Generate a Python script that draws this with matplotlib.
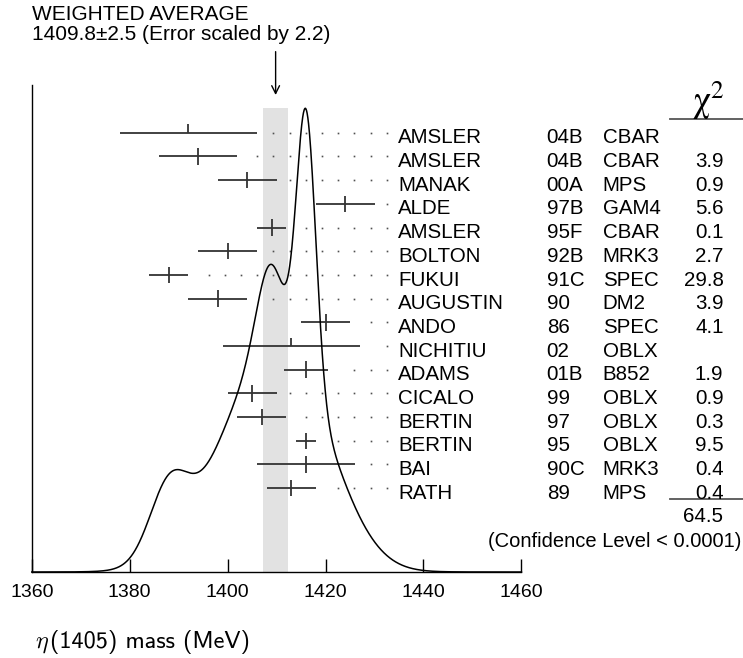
import numpy as np
import matplotlib
matplotlib.use("Agg")
import matplotlib.pyplot as plt
import matplotlib.transforms as mtransforms

# ---------------- data ----------------
authors = ["AMSLER", "AMSLER", "MANAK", "ALDE", "AMSLER", "BOLTON", "FUKUI", "AUGUSTIN",
           "ANDO", "NICHITIU", "ADAMS", "CICALO", "BERTIN", "BERTIN", "BAI", "RATH"]
years = ["04B", "04B", "00A", "97B", "95F", "92B", "91C", "90",
         "86", "02", "01B", "99", "97", "95", "90C", "89"]
experiments = ["CBAR", "CBAR", "MPS", "GAM4", "CBAR", "MRK3", "SPEC", "DM2",
               "SPEC", "OBLX", "B852", "OBLX", "OBLX", "OBLX", "MRK3", "MPS"]
values = [1392, 1394, 1404, 1424, 1409, 1400, 1388, 1398,
          1420, 1413, 1416, 1405, 1407, 1416, 1416, 1413]
errors = [14, 8, 6, 6, 3, 6, 4, 6,
          5, 14, 4.5, 5, 5, 2, 10, 5]
used = [False, True, True, True, True, True, True, True,
        True, False, True, True, True, True, True, True]
chi2 = ["", "3.9", "0.9", "5.6", "0.1", "2.7", "29.8", "3.9",
        "4.1", "", "1.9", "0.9", "0.3", "9.5", "0.4", "0.4"]
chi2_total = "64.5"
avg_value = 1409.8
avg_error = 2.5
scale_factor = 2.2
xticks = [1360, 1380, 1400, 1420, 1440, 1460]

# ---------------- figure ----------------
W, H = 743, 658
fig = plt.figure(figsize=(W / 100, H / 100), dpi=100)
FONT = "Liberation Sans"
plt.rcParams["font.family"] = [FONT, "DejaVu Sans"]
FS = 14.8

def fx(px):
    return px / W

def fy(py):
    return (H - py) / H

ax = fig.add_axes([fx(31.8), fy(572), fx(521.4) - fx(31.8), fy(85) - fy(572)])
n = len(values)
row_y = np.arange(n, 0, -1, dtype=float)  # top row at n
ax.set_xlim(1360, 1460)
ax.set_ylim(-2.536, 18.013)

for s in ["top", "right"]:
    ax.spines[s].set_visible(False)
for s in ["left", "bottom"]:
    ax.spines[s].set_linewidth(1.0)
    ax.spines[s].set_color("black")
ax.set_yticks([])
ax.set_xticks(xticks)
ax.set_xticklabels([str(t) for t in xticks], fontsize=14, family=FONT)
ax.tick_params(axis="x", direction="in", length=9.5, width=1.0, pad=8.5, colors="black")

# weighted average band
band_top = 17.05
ax.fill_between([avg_value - avg_error, avg_value + avg_error], -2.536, band_top,
                color="#e2e2e2", lw=0, zorder=1)

# ideogram curve
xs = np.linspace(1360, 1460, 2000)
ys = np.zeros_like(xs)
for v, e, u in zip(values, errors, used):
    if u:
        ys += (1.0 / e) * np.exp(-0.5 * ((xs - v) / e) ** 2) / (e * np.sqrt(2 * np.pi))
ys = ys / ys.max() * (17.03 + 2.536) - 2.536
ax.plot(xs, ys, color="black", lw=1.1, zorder=4, clip_on=False)

# error bars
bar_col = "#333333"
for y, v, e, u in zip(row_y, values, errors, used):
    ax.hlines(y, v - e, v + e, color=bar_col, lw=1.3, zorder=3)
    if u:
        ax.vlines(v, y - 0.35, y + 0.35, color=bar_col, lw=1.3, zorder=3)
    else:
        ax.vlines(v, y, y + 0.35, color=bar_col, lw=1.3, zorder=3)

# dotted leaders on a fixed grid
grid0, gstep = 1409.33, 3.309
grid = grid0 + gstep * np.arange(-15, 8)
grid = grid[(grid > 1360) & (grid < 1434)]
for y, v, e in zip(row_y, values, errors):
    gx = grid[grid > v + e + 2.4]
    ax.plot(gx, np.full_like(gx, y), ls="none", marker="s", ms=1.2,
            color="#505050", mew=0, zorder=2)

# arrow
ax.annotate("", xy=(avg_value, 17.59), xytext=(avg_value, 19.42),
            arrowprops=dict(arrowstyle="->", lw=1.0, color="black",
                            mutation_scale=14, shrinkA=0, shrinkB=0),
            annotation_clip=False)

# header text
fig.text(fx(31.7), fy(15), "WEIGHTED AVERAGE", fontsize=15, va="center", ha="left", family=FONT)
fig.text(fx(31.7), fy(35), f"{avg_value}\u00b1{avg_error} (Error scaled by {scale_factor})",
         fontsize=15, va="center", ha="left", family=FONT)

# right-hand columns
tr = mtransforms.blended_transform_factory(fig.transFigure, ax.transData)
for y, a, yr, ex, c in zip(row_y, authors, years, experiments, chi2):
    yb = y - 0.45
    fig.text(fx(398.3), yb, a, transform=tr, fontsize=FS, va="baseline", ha="left", family=FONT)
    fig.text(fx(546.7), yb, yr, transform=tr, fontsize=FS, va="baseline", ha="left", family=FONT)
    fig.text(fx(602.7), yb, ex, transform=tr, fontsize=FS, va="baseline", ha="left", family=FONT)
    if c:
        fig.text(fx(723.5), yb, c, transform=tr, fontsize=FS, va="baseline", ha="right", family=FONT)

# chi2 header
fig.text(fx(708), fy(101), r"$\mathrm{\chi}^{2}$", fontsize=26, ha="center", va="center",
         math_fontfamily="stix")
fig.add_artist(plt.Line2D([fx(670), fx(743)], [fy(119.3), fy(119.3)], color="#555555", lw=1.3))
fig.add_artist(plt.Line2D([fx(670), fx(743)], [fy(499), fy(499)], color="#555555", lw=1.3))
fig.text(fx(723.5), fy(516.7), chi2_total, fontsize=FS, ha="right", va="center", family=FONT)
fig.text(fx(741.5), fy(541.7), "(Confidence Level < 0.0001)", fontsize=14.5, ha="right",
         va="center", family=FONT)

# x label: italic eta (Computer Modern math) followed by CM sans text
renderer = fig.canvas.get_renderer()
t_eta = fig.text(fx(35), fy(647.5), r"$\eta$", fontsize=17.5, ha="left", va="baseline",
                 math_fontfamily="cm")
bb = t_eta.get_window_extent(renderer)
fig.text((bb.x1 + 0.5) / W, fy(647.5), "(1405) mass (MeV)", fontsize=17.5, ha="left",
         va="baseline", family=["cmss10", "DejaVu Sans"])

fig.savefig("out.png", dpi=100)
